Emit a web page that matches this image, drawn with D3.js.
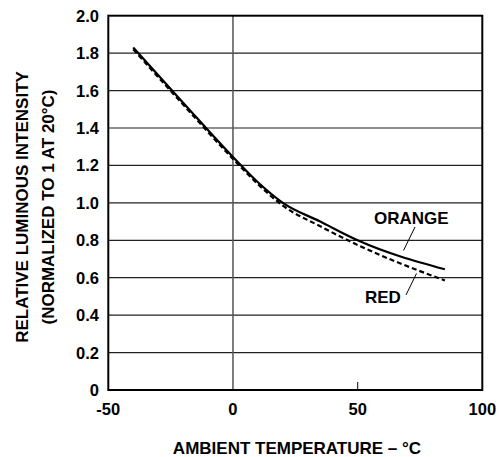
<!DOCTYPE html>
<html><head><meta charset="utf-8">
<script src="https://cdn.jsdelivr.net/npm/d3@7"></script>
<style>body{margin:0;background:#fff;} text{font-family:"Liberation Sans",Arial,sans-serif;font-weight:bold;fill:#000;}</style>
</head><body><svg id="c" width="499" height="457"></svg>
<script>
const xTicks = [-50, 0, 50, 100];
const yTicks = [0, 0.2, 0.4, 0.6, 0.8, 1.0, 1.2, 1.4, 1.6, 1.8, 2.0];
const orangeT = [-40, -20, 0, 10, 20, 35, 50, 85];
const orangeV = [1.83, 1.535, 1.245, 1.11, 1.0, 0.9, 0.8, 0.645];
const redT = [-40, -20, 0, 10, 20, 35, 50, 85];
const redV = [1.82, 1.525, 1.235, 1.1, 0.985, 0.875, 0.775, 0.585];

const svg = d3.select("#c");
const L = 108.3, R = 482.3, T = 15.7, B = 390;
const x = d3.scaleLinear().domain([-50, 100]).range([L, R]);
const y = d3.scaleLinear().domain([0, 2]).range([B, T]);

// horizontal gridlines
svg.selectAll(".hg").data(yTicks.filter(v => v > 0 && v < 2)).enter().append("line")
  .attr("x1", L).attr("x2", R).attr("y1", d => y(d)).attr("y2", d => y(d))
  .attr("stroke", "#222").attr("stroke-width", 1.2);
// vertical line at 0
svg.append("line").attr("x1", x(0)).attr("x2", x(0)).attr("y1", T).attr("y2", B)
  .attr("stroke", "#555").attr("stroke-width", 1.5);
// small tick at 50
svg.append("line").attr("x1", x(50)).attr("x2", x(50)).attr("y1", B - 8).attr("y2", B)
  .attr("stroke", "#333").attr("stroke-width", 1.2);
// frame
svg.append("rect").attr("x", L).attr("y", T).attr("width", R - L).attr("height", B - T)
  .attr("fill", "none").attr("stroke", "#000").attr("stroke-width", 2);

// y tick labels
svg.selectAll(".yl").data(yTicks).enter().append("text")
  .attr("x", 99).attr("y", d => y(d)).attr("dy", "0.36em").attr("text-anchor", "end")
  .attr("font-size", 16.5).text(d => d === 0 ? "0" : d.toFixed(1));
// x tick labels
svg.selectAll(".xl").data(xTicks).enter().append("text")
  .attr("x", d => x(d)).attr("y", 409).attr("dy", "0.36em").attr("text-anchor", "middle")
  .attr("font-size", 16.5).text(d => d);

// axis titles
svg.append("text").attr("x", 297).attr("y", 448).attr("dy", "0.36em").attr("text-anchor", "middle")
  .attr("font-size", 17).text("AMBIENT TEMPERATURE – °C");
const yt = svg.append("g").attr("transform", "translate(22,207) rotate(-90)");
yt.append("text").attr("x", 0).attr("y", 0).attr("dy", "0.36em").attr("text-anchor", "middle")
  .attr("font-size", 17).text("RELATIVE LUMINOUS INTENSITY");
yt.append("text").attr("x", 0).attr("y", 26).attr("dy", "0.36em").attr("text-anchor", "middle")
  .attr("font-size", 17).text("(NORMALIZED TO 1 AT 20°C)");

const line = d3.line().x(d => x(d[0])).y(d => y(d[1])).curve(d3.curveMonotoneX);
svg.append("path").datum(redT.map((t, i) => [t, redV[i]])).attr("d", line)
  .attr("fill", "none").attr("stroke", "#000").attr("stroke-width", 2.2).attr("stroke-dasharray", "5,3");
svg.append("path").datum(orangeT.map((t, i) => [t, orangeV[i]])).attr("d", line)
  .attr("fill", "none").attr("stroke", "#000").attr("stroke-width", 2.2);

// labels
svg.append("text").attr("x", 374).attr("y", 218).attr("dy", "0.36em").attr("font-size", 17).text("ORANGE");
svg.append("line").attr("x1", 415).attr("y1", 227).attr("x2", 403.5).attr("y2", 250.5).attr("stroke", "#000").attr("stroke-width", 1);
svg.append("text").attr("x", 365).attr("y", 297).attr("dy", "0.36em").attr("font-size", 17).text("RED");
svg.append("line").attr("x1", 406).attr("y1", 295).attr("x2", 416.5).attr("y2", 273.5).attr("stroke", "#000").attr("stroke-width", 1);
</script></body></html>
